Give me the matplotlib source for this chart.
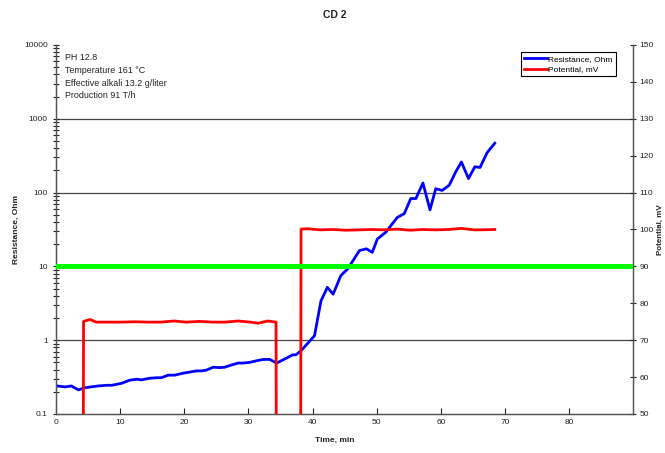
import matplotlib
matplotlib.use('Agg')
import matplotlib.pyplot as plt
import numpy as np
from matplotlib.ticker import FixedLocator, LogLocator, NullFormatter, FuncFormatter

plt.rcParams['font.family'] = ['Liberation Sans', 'DejaVu Sans']

### Data ###
# Resistance (Ohm) vs time (min)
res_t = [0.1, 1.4, 2.4, 3.5, 4.5, 6.6, 7.9, 8.7, 10.2, 11.5, 12.6, 13.3, 14.6,
         15.7, 16.4, 17.5, 18.5, 19.8, 20.8, 21.9, 22.7, 23.4, 24.5, 25.5, 26.3,
         27.3, 28.4, 29.1, 30.2, 31.2, 32.2, 33.3, 34.4, 35.9, 36.9, 37.4, 38.2,
         40.3, 41.3, 42.3, 43.2, 44.4, 45.5, 47.3, 48.4, 49.3, 50.1, 51.4, 53.2,
         54.3, 55.3, 56.1, 57.2, 58.3, 59.2, 60.2, 61.3, 62.3, 63.2, 64.3, 65.3,
         66.1, 67.2, 68.4]
res_v = [0.24, 0.233, 0.24, 0.212, 0.227, 0.24, 0.245, 0.245, 0.26, 0.287, 0.296,
         0.29, 0.305, 0.31, 0.31, 0.336, 0.336, 0.357, 0.369, 0.384, 0.384, 0.392,
         0.43, 0.425, 0.43, 0.46, 0.49, 0.49, 0.5, 0.525, 0.547, 0.55, 0.49, 0.57,
         0.634, 0.634, 0.72, 1.15, 3.4, 5.2, 4.2, 7.5, 9.3, 16.4, 17.3, 15.5, 23.5,
         29, 46, 52, 83, 83, 135, 58.5, 113, 107, 126, 190, 260, 155, 224, 219,
         347, 467]

# Potential (mV) vs time (min); 0 = not measured (below the axis)
pot_t = [0.0, 4.2, 4.3, 5.3, 6.3, 8.3, 10.3, 12.3, 14.3, 16.3, 18.4, 20.3, 22.4,
         24.3, 26.3, 28.4, 30.3, 31.5, 33.0, 34.3, 34.4, 38.1, 38.2, 39.2, 41.2,
         43.2, 45.2, 47.2, 49.2, 51.2, 53.2, 55.2, 57.2, 59.2, 61.2, 63.2, 65.2,
         66.2, 68.4]
pot_v = [0, 0, 75.1, 75.6, 74.9, 74.9, 74.9, 75.0, 74.9, 74.9, 75.2, 74.9, 75.1,
         74.9, 74.9, 75.2, 74.9, 74.6, 75.2, 74.9, 0, 0, 100.1, 100.2, 99.9,
         100.0, 99.8, 99.9, 100.0, 99.9, 100.1, 99.8, 100.0, 99.9, 100.0, 100.3,
         99.9, 99.9, 100.0]

limit_pot = 90  # green reference line (= 10 Ohm)

info_lines = ['PH 12.8', 'Temperature 161 \u00b0C', 'Effective alkali 13.2 g/liter',
              'Production 91 T/h']

### Figure ###
fig = plt.figure(figsize=(6.65, 4.53), dpi=100)
ax = fig.add_axes([0.0842, 0.0861, 0.8682, 0.8146])
ax2 = ax.twinx()

spine_col = '#555555'
txt_col = '#222222'

ax.set_yscale('log')
ax.set_ylim(0.1, 10000)
ax.set_xlim(0, 90)
ax.set_xticks(np.arange(0, 81, 10))
ax.yaxis.set_major_locator(FixedLocator([0.1, 1, 10, 100, 1000, 10000]))
ax.yaxis.set_minor_locator(LogLocator(base=10, subs=np.arange(2, 10)))
ax.yaxis.set_minor_formatter(NullFormatter())
ax.yaxis.set_major_formatter(FuncFormatter(lambda v, p: ('%g' % v)))

# horizontal grid at the decades
for y in [1, 100, 1000]:
    ax.axhline(y, color='#444444', lw=0.9, zorder=1)

ax.plot(res_t, res_v, color='#0000ff', lw=2.0, zorder=3, label='Resistance, Ohm')

ax2.set_ylim(50, 150)
ax2.set_yticks(np.arange(50, 151, 10))
ax2.plot(pot_t, pot_v, color='#ff0000', lw=2.0, zorder=3, label='Potential, mV')
ax2.axhline(limit_pot, color='#00ff00', lw=3.6, zorder=5)

for a in (ax, ax2):
    for s in a.spines.values():
        s.set_color(spine_col)
        s.set_linewidth(0.9)
    a.spines['top'].set_visible(False)
    a.tick_params(labelsize=6, colors=txt_col, direction='inout', length=5,
                  width=0.8)
    a.tick_params(which='minor', direction='inout', length=4, width=0.8,
                  colors=txt_col)
ax.tick_params(axis='x', direction='in', length=4)
ax2.tick_params(axis='y', pad=2)

ax.set_ylabel('Resistance, Ohm', fontsize=6, fontweight='bold', color=txt_col)
ax.yaxis.set_label_coords(-0.062, 0.5)
fig.text(0.9935, 0.493, 'Potential, mV', fontsize=5.8, fontweight='bold',
         rotation=90, ha='center', va='center', color=txt_col)

fig.text(0.504, 0.967, 'CD 2', fontsize=7.5, fontweight='bold', ha='center',
         va='center', color=txt_col)
fig.text(0.504, 0.028, 'Time, min', fontsize=6, fontweight='bold', ha='center',
         va='center', color=txt_col)

for i, line in enumerate(info_lines):
    ax.text(0.0156, 0.965 - i * 0.0342, line, transform=ax.transAxes,
            fontsize=6.4, va='center', ha='left', color=txt_col)

h1, l1 = ax.get_legend_handles_labels()
h2, l2 = ax2.get_legend_handles_labels()
leg = ax2.legend(h1 + h2, l1 + l2, loc='upper right',
                 bbox_to_anchor=(0.9695, 0.980), borderaxespad=0, fontsize=6,
                 fancybox=False, framealpha=1, edgecolor='black',
                 handlelength=2.7, handletextpad=0.2, borderpad=0.35,
                 labelspacing=0.3)
leg.get_frame().set_linewidth(0.8)
leg.set_zorder(10)

fig.savefig('out.png', dpi=100)
